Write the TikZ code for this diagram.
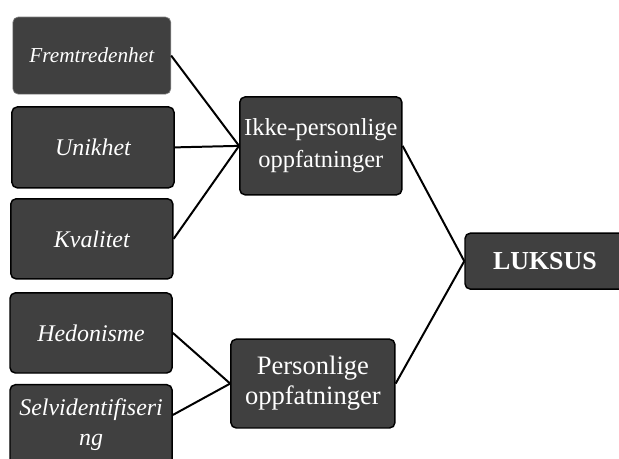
\documentclass[tikz,border=0pt]{standalone}
\usepackage{fontspec}
\setmainfont{Liberation Serif}
\usepackage{tikz}
\usetikzlibrary{positioning}
\definecolor{boxgray}{HTML}{404040}
\definecolor{edgegray}{HTML}{7F7F7F}
\tikzset{
  trait/.style={draw=black,line width=1.1pt,rounded corners=4pt,fill=boxgray,text=white,align=center,minimum width=4.29cm,minimum height=2.12cm,inner sep=2pt,font=\fontsize{18}{22.5}\selectfont\itshape},
  group/.style={draw=black,line width=1.1pt,rounded corners=4pt,fill=boxgray,text=white,align=center,inner sep=2pt},
  link/.style={line width=1.5pt},
}

\begin{document}
\begin{tikzpicture}
			\useasboundingbox (0,0) rectangle (16.38,-12.14);
			\clip (0,0) rectangle (16.38,-12.14);
			% left column
			\node[trait,draw=edgegray,line width=.5pt,minimum width=4.18cm,minimum height=2.04cm,font=\fontsize{16}{20}\selectfont\itshape] (frem) at (2.43,-1.47) {Fremtredenhet};
			\node[trait,minimum height=2.14cm] (unik) at (2.46,-3.90) {Unikhet};
			\node[trait] (kval) at (2.43,-6.32) {Kvalitet};
			\node[trait] (hedo) at (2.41,-8.81) {Hedonisme};
			\node[trait] (selv) at (2.41,-11.24) {Selvidentifiseri\\ng};
			% middle column
			\node[group,minimum width=4.29cm,minimum height=2.59cm,font=\fontsize{18.4}{24}\selectfont] (ikke) at (8.49,-3.86) {Ikke-personlige\\oppfatninger};
			\node[group,minimum width=4.34cm,minimum height=2.35cm,font=\fontsize{20}{22.5}\selectfont] (pers) at (8.28,-10.15) {Personlige\\oppfatninger};
			% right
			\node[group,minimum width=4.23cm,minimum height=1.48cm,font=\fontsize{19.5}{22}\selectfont\bfseries] (luks) at (14.42,-6.91) {LUKSUS};
			\draw[link] (frem.east)--(ikke.west);
			\draw[link] (unik.east)--(ikke.west);
			\draw[link] (kval.east)--(ikke.west);
			\draw[link] (hedo.east)--(pers.west);
			\draw[link] ([yshift=.26cm]selv.east)--(pers.west);
			\draw[link] (ikke.east)--(luks.west);
			\draw[link] (pers.east)--(luks.west);
		\end{tikzpicture}
\end{document}
